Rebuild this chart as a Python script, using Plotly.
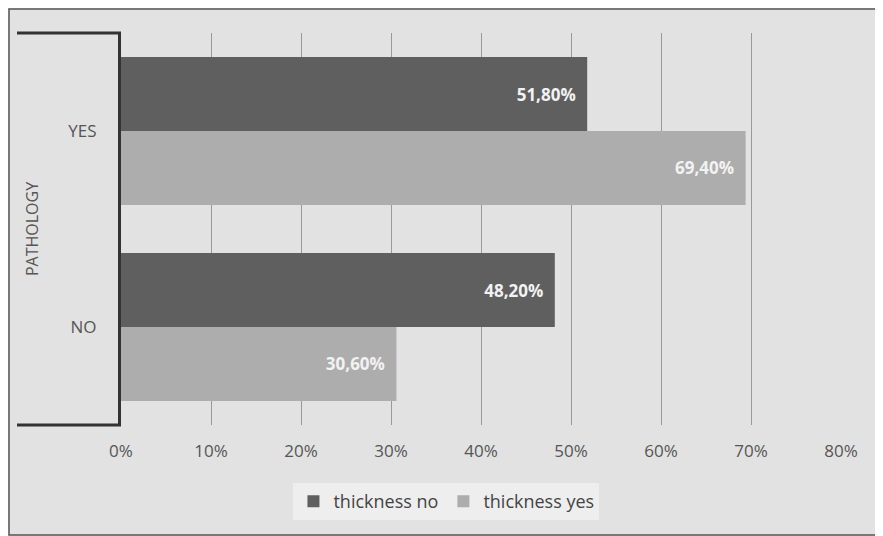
import plotly.graph_objects as go

categories = ["YES", "NO"]
thickness_no = [51.8, 48.2]
thickness_yes = [69.4, 30.6]
labels_no = ["51,80%", "48,20%"]
labels_yes = ["69,40%", "30,60%"]
tick_vals = [0, 10, 20, 30, 40, 50, 60, 70, 80]
tick_text = ["0%", "10%", "20%", "30%", "40%", "50%", "60%", "70%", "80%"]

font_family = "Open Sans, Noto Sans, sans-serif"

fig = go.Figure()
fig.add_trace(go.Bar(
    y=categories, x=thickness_no, name="thickness no", orientation="h",
    marker=dict(color="#5f5f5f", line=dict(width=0)),
    text=[t + "\u2002" for t in labels_no], textposition="inside", insidetextanchor="end",
    textfont=dict(color="#f2f2f2", size=17, family=font_family, weight="bold"),
    hoverinfo="skip",
))
fig.add_trace(go.Bar(
    y=categories, x=thickness_yes, name="thickness yes", orientation="h",
    marker=dict(color="#adadad", line=dict(width=0)),
    text=[t + "\u2002" for t in labels_yes], textposition="inside", insidetextanchor="end",
    textfont=dict(color="#f2f2f2", size=17, family=font_family, weight="bold"),
    hoverinfo="skip",
))

# page is offset by ~8px body margin
OFF = 8
L = 121 - OFF
T = 33 - OFF
PW, PH = 720, 392
W, H = 883, 536
fig.update_layout(
    width=W, height=H,
    margin=dict(l=L, r=W - L - PW, t=T, b=H - T - PH),
    paper_bgcolor="#e2e2e2",
    plot_bgcolor="rgba(0,0,0,0)",
    barmode="group",
    bargap=0.245,
    bargroupgap=0,
    font=dict(family=font_family, color="#555555", size=17),
    showlegend=True,
    legend=dict(
        orientation="h", x=0.452, xanchor="center", y=-0.195, yanchor="middle",
        bgcolor="#eeeeee", font=dict(size=18, color="#444444"),
        itemwidth=30, tracegroupgap=0,
    ),
    xaxis=dict(
        range=[0, 80], tickvals=tick_vals, ticktext=tick_text,
        showgrid=True, gridcolor="#999999", gridwidth=1,
        zeroline=False, showline=False, ticks="", ticklabelstandoff=14,
        tickfont=dict(size=17, color="#555555"),
    ),
    yaxis=dict(
        categoryorder="array", categoryarray=categories, autorange="reversed",
        showline=True, linecolor="#333333", linewidth=3,
        ticks="", ticklabelstandoff=18,
        tickfont=dict(size=17, color="#555555"),
        title=dict(text="PATHOLOGY", font=dict(size=16, color="#555555"), standoff=26),
    ),
)

# bracket ends of the category axis
bx0 = (17 - OFF - L) / PW
for yy in (0, 1):
    fig.add_shape(type="line", xref="paper", yref="paper",
                  x0=bx0, x1=0, y0=yy, y1=yy,
                  line=dict(color="#333333", width=3))

# outer border of the chart
fig.add_shape(type="rect", xref="paper", yref="paper",
              x0=(1 - L) / PW, x1=(882 - OFF - L) / PW,
              y0=(T + PH - (535 - OFF)) / PH, y1=(T + PH - 1) / PH,
              line=dict(color="#555555", width=1.5), fillcolor="rgba(0,0,0,0)",
              layer="below")

fig.write_html("out.html")
